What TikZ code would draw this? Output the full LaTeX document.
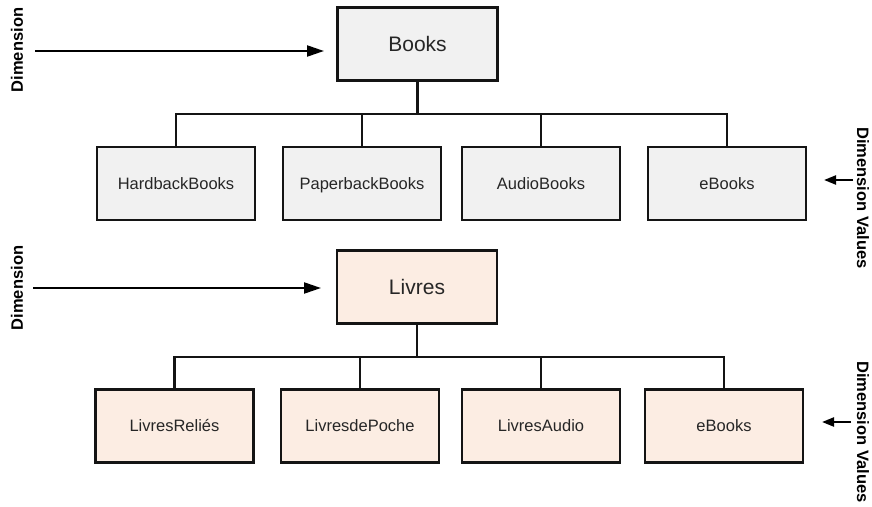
\documentclass[tikz,border=0pt]{standalone}
\usepackage{fontspec}
\setmainfont{Liberation Sans}
\usetikzlibrary{arrows.meta}
\definecolor{grayfill}{HTML}{F1F1F1}
\definecolor{peachfill}{HTML}{FCEDE3}
\definecolor{edge}{HTML}{141414}
\tikzset{
  box/.style={draw=edge, line width=2.6pt, minimum width=158pt, minimum height=73pt, inner sep=0pt,
    font=\fontsize{16.5}{19}\selectfont, text=black!85, text height=11.8pt, text depth=0pt},
  topbox/.style={box, minimum width=160pt, minimum height=73pt, font=\fontsize{21}{24}\selectfont,
    text height=15pt, text depth=0pt},
  gbox/.style={fill=grayfill},
  pbox/.style={fill=peachfill},
  conn/.style={draw=edge, line width=2.4pt},
  bigarrow/.style={draw=black, line width=2.2pt, -{Triangle[length=17pt,width=11pt]}},
  smallarrow/.style={draw=black, line width=2.2pt, -{Triangle[length=12pt,width=9pt]}},
  dimlabel/.style={font=\bfseries\fontsize{16.5}{19}\selectfont, inner sep=0pt}
}
\begin{document}
\begin{tikzpicture}[x=1pt,y=-1pt]
\useasboundingbox (0,0) rectangle (872,506);
% top hierarchy
\node[topbox,gbox] (books) at (417.5,44) {Books};
\node[box,gbox] (hb) at (176,183.5) {HardbackBooks};
\node[box,gbox] (pb) at (362,183.5) {PaperbackBooks};
\node[box,gbox] (ab) at (541,183.5) {AudioBooks};
\node[box,gbox] (eb) at (727,183.5) {eBooks};
\coordinate (busA) at (417.5,114);
\draw[conn] (books.south) -- (busA);
\draw[conn] (hb.north) |- (busA) -| (eb.north);
\draw[conn] (pb.north) -- (pb.north |- busA);
\draw[conn] (ab.north) -- (ab.north |- busA);
% bottom hierarchy
\node[topbox,pbox] (livres) at (417,287) {Livres};
\node[box,pbox] (lr) at (174.5,426) {LivresReliés};
\node[box,pbox] (lp) at (360,426) {LivresdePoche};
\node[box,pbox] (la) at (541,426) {LivresAudio};
\node[box,pbox] (le) at (724,426) {eBooks};
\coordinate (busB) at (417,357);
\draw[conn] (livres.south) -- (busB);
\draw[conn] (lr.north) |- (busB) -| (le.north);
\draw[conn] (lp.north) -- (lp.north |- busB);
\draw[conn] (la.north) -- (la.north |- busB);
% labels and arrows
\node[dimlabel, rotate=90] (dimA) at (17,50) {Dimension};
\node[dimlabel, rotate=90] (dimB) at (17,288) {Dimension};
\node[dimlabel, rotate=-90] (valA) at (863,198) {Dimension Values};
\node[dimlabel, rotate=-90] (valB) at (863,432) {Dimension Values};
\coordinate (a1s) at (35,51);
\coordinate (a1e) at (324,51);
\coordinate (a2s) at (33,288);
\coordinate (a2e) at (321,288);
\coordinate (a3s) at (853,180);
\coordinate (a3e) at (824,180);
\coordinate (a4s) at (851,422);
\coordinate (a4e) at (822,422);
\draw[bigarrow] (a1s) -- (a1e);
\draw[bigarrow] (a2s) -- (a2e);
\draw[smallarrow] (a3s) -- (a3e);
\draw[smallarrow] (a4s) -- (a4e);
\end{tikzpicture}
\end{document}
